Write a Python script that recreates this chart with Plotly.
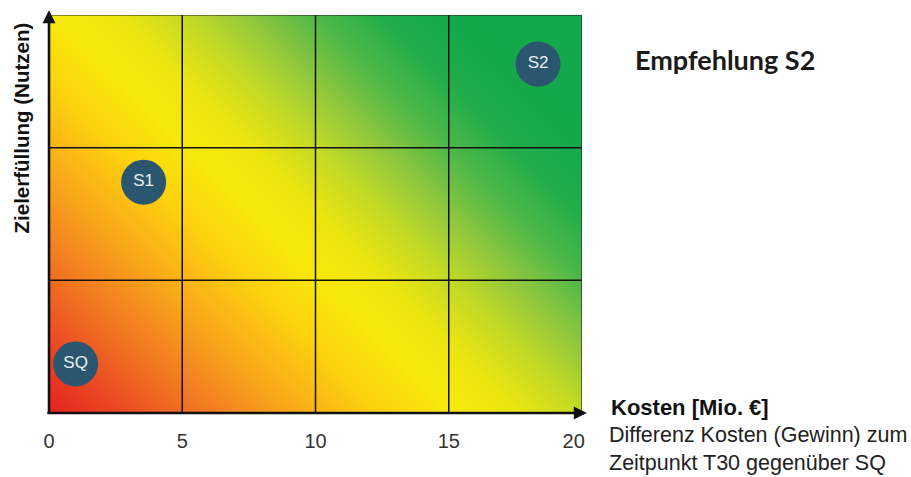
import plotly.graph_objects as go

# Axis scale and ticks
x_ticks = [0, 5, 10, 15, 20]
x_tick_text = ["0", "5", "10", "15", "20\u00a0\u00a0\u00a0"]
y_bands = [0, 1, 2, 3]

# Options positioned by cost (x) and goal achievement (y)
names = ["SQ", "S1", "S2"]
cost = [1.0, 3.55, 18.35]
benefit = [0.37, 1.74, 2.63]

# Background gradient: score at the four corners (one step per grid cell),
# blended bilinearly across the plot
grad_x = [0, 20]
grad_y = [0, 3]
grad_z = [[0.0, 4.0],
          [3.0, 7.0]]

colorscale = [
    [0.000, "#e4221f"],
    [0.071, "#ea4523"],
    [0.143, "#f06b22"],
    [0.214, "#f5901e"],
    [0.286, "#fab317"],
    [0.357, "#fcd10e"],
    [0.429, "#f8e80b"],
    [0.500, "#eee50f"],
    [0.571, "#c4da24"],
    [0.643, "#8ec63d"],
    [0.714, "#4db848"],
    [0.786, "#22ad4a"],
    [0.857, "#14a84b"],
    [1.000, "#12a84b"],
]

fig = go.Figure()
fig.add_trace(go.Heatmap(
    x=grad_x, y=grad_y, z=grad_z, zsmooth="best",
    colorscale=colorscale, zmin=0, zmax=7, showscale=False, hoverinfo="skip",
))
fig.add_trace(go.Scatter(
    x=cost, y=benefit, mode="markers+text", text=names,
    marker=dict(size=45, color="#2b566f"),
    textfont=dict(family="Liberation Sans, Arial", size=17, color="#eceff1"),
    textposition="middle center", hoverinfo="skip", showlegend=False,
))

shapes = []
# inner grid lines
for v in x_ticks[1:-1]:
    shapes.append(dict(type="line", xref="x", yref="y", x0=v, x1=v,
                       y0=y_bands[0], y1=y_bands[-1],
                       line=dict(color="#111111", width=1.5), layer="above"))
for v in y_bands[1:-1]:
    shapes.append(dict(type="line", xref="x", yref="y", y0=v, y1=v,
                       x0=x_ticks[0], x1=x_ticks[-1],
                       line=dict(color="#111111", width=1.5), layer="above"))
# frame on top and right
shapes.append(dict(type="line", xref="x", yref="y", x0=x_ticks[0], x1=x_ticks[-1],
                   y0=y_bands[-1], y1=y_bands[-1], line=dict(color="#222222", width=1.2), layer="above"))
shapes.append(dict(type="line", xref="x", yref="y", x0=x_ticks[-1], x1=x_ticks[-1],
                   y0=y_bands[0], y1=y_bands[-1], line=dict(color="#222222", width=1.2), layer="above"))

annotations = [
    # axis arrows
    dict(xref="paper", yref="paper", x=0, y=1.012, ax=0, ay=404, text="",
         showarrow=True, arrowhead=2, arrowsize=1, arrowwidth=2.6, arrowcolor="#111111"),
    dict(xref="paper", yref="paper", x=1.009, y=0, ax=-541, ay=0, text="",
         showarrow=True, arrowhead=2, arrowsize=1, arrowwidth=2.6, arrowcolor="#111111"),
    dict(xref="paper", yref="paper", x=-0.051, y=0.717, text="<b>Zielerfüllung (Nutzen)</b>",
         textangle=-90, showarrow=False, xanchor="center", yanchor="middle",
         font=dict(family="Liberation Sans, Arial", size=20.5, color="#111111")),
    dict(xref="paper", yref="paper", x=1.0505, y=0.0126, text="<b>Kosten [Mio. €]</b>",
         showarrow=False, xanchor="left", yanchor="middle",
         font=dict(family="Liberation Sans, Arial", size=22, color="#111111")),
    dict(xref="paper", yref="paper", x=1.046, y=-0.09,
         text="Differenz Kosten (Gewinn) zum<br>Zeitpunkt T30 gegenüber SQ",
         showarrow=False, xanchor="left", yanchor="middle", align="left",
         font=dict(family="Liberation Sans, Arial", size=21.5, color="#222222")),
    dict(xref="paper", yref="paper", x=1.0955, y=0.887, text="<b>Empfehlung S2</b>",
         showarrow=False, xanchor="left", yanchor="middle",
         font=dict(family="Lato, Open Sans", size=27, color="#1a1a1a")),
]

fig.update_layout(
    width=911, height=477,
    margin=dict(l=49, r=329, t=15, b=64),
    paper_bgcolor="white", plot_bgcolor="white",
    shapes=shapes, annotations=annotations, showlegend=False,
    xaxis=dict(range=[x_ticks[0], x_ticks[-1]], tickvals=x_ticks, ticktext=x_tick_text,
               showgrid=False, zeroline=False, showline=False, ticks="outside", ticklen=10,
               tickcolor="rgba(0,0,0,0)",
               tickfont=dict(family="Liberation Sans, Arial", size=20, color="#333333")),
    yaxis=dict(range=[y_bands[0], y_bands[-1]], showgrid=False, zeroline=False,
               showline=False, showticklabels=False, ticks=""),
)

fig.write_html("out.html")
